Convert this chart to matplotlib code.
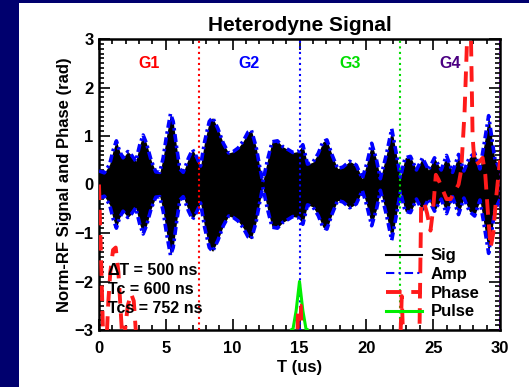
import numpy as np
import matplotlib
matplotlib.use("Agg")
import matplotlib.pyplot as plt
from matplotlib.lines import Line2D
from matplotlib.ticker import MultipleLocator

plt.rcParams['font.family'] = ['Liberation Sans', 'DejaVu Sans']
plt.rcParams['font.weight'] = 'bold'

# envelope of the normalised RF signal (us, amplitude)
t_env = [0.0, 0.4, 0.8, 1.05, 1.3, 1.55, 1.8, 2.15, 2.45, 2.75, 3.05, 3.3, 3.55,
         3.9, 4.25, 4.55, 4.8, 5.05, 5.35, 5.55, 5.8, 6.05, 6.3, 6.7, 7.0, 7.3,
         7.6, 7.9, 8.25, 8.5, 8.9, 9.3, 9.7, 10.05, 10.4, 10.8, 11.15, 11.4,
         11.75, 12.0, 12.25, 12.6, 12.95, 13.35, 13.75, 14.15, 14.5, 14.9,
         15.25, 15.6, 16.0, 16.4, 16.75, 17.05, 17.45, 17.85, 18.25, 18.75,
         19.25, 19.7, 20.05, 20.4, 20.75, 21.05, 21.5, 21.9, 22.2, 22.55, 22.9,
         23.3, 23.75, 24.2, 24.65, 25.1, 25.6, 26.0, 26.45, 26.9, 27.3, 27.7,
         28.1, 28.5, 28.85, 29.15, 29.6, 30.0]
amp_env = [0.28, 0.24, 0.42, 0.7, 0.9, 0.68, 0.55, 0.68, 0.6, 0.48, 0.82, 1.02, 0.85,
           0.5, 0.26, 0.25, 0.55, 1.0, 1.46, 1.3, 0.78, 0.32, 0.25, 0.55, 0.72, 0.57,
           0.38, 0.88, 1.3, 1.38, 1.15, 0.85, 0.65, 0.68, 0.75, 0.9, 1.08, 1.12,
           0.78, 0.4, 0.05, 0.5, 0.88, 0.9, 0.78, 0.72, 0.66, 0.68,
           0.82, 0.42, 0.46, 0.64, 0.88, 0.92, 0.6, 0.33, 0.36, 0.48,
           0.4, 0.12, 0.45, 0.85, 0.52, 0.12, 0.62, 1.15, 0.7, 0.15, 0.55,
           0.58, 0.3, 0.55, 0.3, 0.55, 0.3, 0.6, 0.25, 0.62, 0.28, 0.55,
           0.65, 0.32, 0.9, 1.42, 0.55, 0.3]

# unwrapped phase (rad); values below -3 run off the plot
t_phase = [0.0, 0.05, 0.15, 0.25, 0.35, 0.55, 0.7, 0.85, 1.05, 1.25, 1.45, 1.6,
           1.75, 1.95, 2.15, 2.4, 2.6, 2.75, 2.9, 14.8, 14.9, 15.1, 15.2,
           22.5, 22.65, 22.8, 23.95, 24.1, 24.3, 24.55, 24.8, 25.0, 25.2, 25.4,
           25.7, 26.0, 26.3, 26.6, 26.9, 27.1, 27.35, 27.6, 27.8, 27.95, 28.1,
           28.4, 28.7, 28.9, 29.1, 29.3, 29.5, 29.7, 30.0]
phase = [0.0, -0.5, -1.5, -2.5, -3.6, -3.3, -2.4, -1.8, -1.35, -1.3, -1.8, -2.5,
         -3.2, -3.0, -2.5, -2.25, -2.4, -3.0, -3.6, -3.6, -2.5, -2.5, -3.6,
         -3.6, -2.3, -3.6, -3.6, -0.45, -0.35, -0.6, -0.95, -0.5, 0.2, 0.1,
         -0.1, -0.3, -0.3, -0.15, 0.0, 0.3, 1.5, 3.5, 3.5, 1.0, 0.4,
         0.45, 0.55, 0.2, -0.6, -1.3, -1.0, -0.3, 0.5]

# reference pulse at T = 15 us
t_pulse = [14.4, 14.5, 14.75, 15.0, 15.25, 15.5, 15.6]
pulse = [-3.0, -3.0, -2.6, -2.0, -2.6, -3.0, -3.0]

gate_edges = [7.5, 15.0, 22.5, 30.0]
gate_names = ['G1', 'G2', 'G3', 'G4']
gate_colors = ['red', 'blue', '#00dd00', '#4b0082']
notes = ['\u0394T = 500 ns', 'Tc = 600 ns', 'Tcs = 752 ns']

t_env = np.array(t_env)
amp_env = np.array(amp_env)

fig = plt.figure(figsize=(5.29, 3.87), dpi=100, facecolor='#00006e')
fig.patches.append(plt.Rectangle((19 / 529, 0), 1, 1 - 3 / 387, transform=fig.transFigure,
                                 facecolor='white', edgecolor='none', zorder=-5))
ax = fig.add_axes([99 / 529, 1 - 330 / 387, 401 / 529, 291 / 387])

ax.fill_between(t_env, -amp_env, amp_env, color='black', lw=0, zorder=2)
amp_style = (0, (2.2, 1.0, 0.7, 1.0))
ax.plot(t_env, amp_env, color='blue', lw=2.6, ls=amp_style, zorder=3)
ax.plot(t_env, -amp_env, color='blue', lw=2.6, ls=amp_style, zorder=3)

for x, c in zip(gate_edges, gate_colors):
    ax.axvline(x, color=c, ls=':', lw=1.5, zorder=4)

ax.plot(t_pulse, pulse, color='#00ee00', lw=2.2, zorder=4)
ax.plot(t_phase, phase, color='#ff1a1a', lw=2.8, ls=(0, (4, 2.5)), zorder=5)

for i, (name, c) in enumerate(zip(gate_names, gate_colors)):
    ax.text(3.75 + 7.5 * i, 2.5, name, color=c, fontsize=11.5, fontweight='bold',
            ha='center', va='center')

for i, s in enumerate(notes):
    ax.text(0.7, -1.77 - 0.39 * i, s, fontsize=11.5, fontweight='bold',
            ha='left', va='center', zorder=6)

handles = [Line2D([], [], color='black', lw=1.5),
           Line2D([], [], color='blue', lw=1.5, ls=(0, (4, 2, 1, 2))),
           Line2D([], [], color='#ff1a1a', lw=2.8, ls=(0, (4, 2.5))),
           Line2D([], [], color='#00ee00', lw=2.2)]
ax.legend(handles, ['Sig', 'Amp', 'Phase', 'Pulse'], loc='upper left',
          bbox_to_anchor=(0.69, 0.315), frameon=False,
          handlelength=2.2, handletextpad=0.5, labelspacing=0.22,
          borderpad=0.1, prop={'weight': 'bold', 'size': 12})

ax.set_xlim(0, 30)
ax.set_ylim(-3, 3)
ax.xaxis.set_major_locator(MultipleLocator(5))
ax.xaxis.set_minor_locator(MultipleLocator(1))
ax.yaxis.set_major_locator(MultipleLocator(1))
ax.yaxis.set_minor_locator(MultipleLocator(0.1))
ax.tick_params(which='both', direction='in', top=True, right=True, width=1.2,
               labelsize=12)
ax.tick_params(which='major', length=8)
ax.tick_params(which='minor', length=3.5)
ax.tick_params(axis='x', pad=8)
ax.tick_params(axis='y', pad=4)
for sp in ax.spines.values():
    sp.set_linewidth(1.8)

ax.set_title('Heterodyne Signal', fontsize=15, fontweight='bold', pad=6)
ax.set_xlabel('T (us)', fontsize=12, fontweight='bold', labelpad=3)
ax.set_ylabel('Norm-RF Signal and Phase (rad)', fontsize=12, fontweight='bold',
              labelpad=2)

fig.savefig('out.png', dpi=100, facecolor=fig.get_facecolor())
